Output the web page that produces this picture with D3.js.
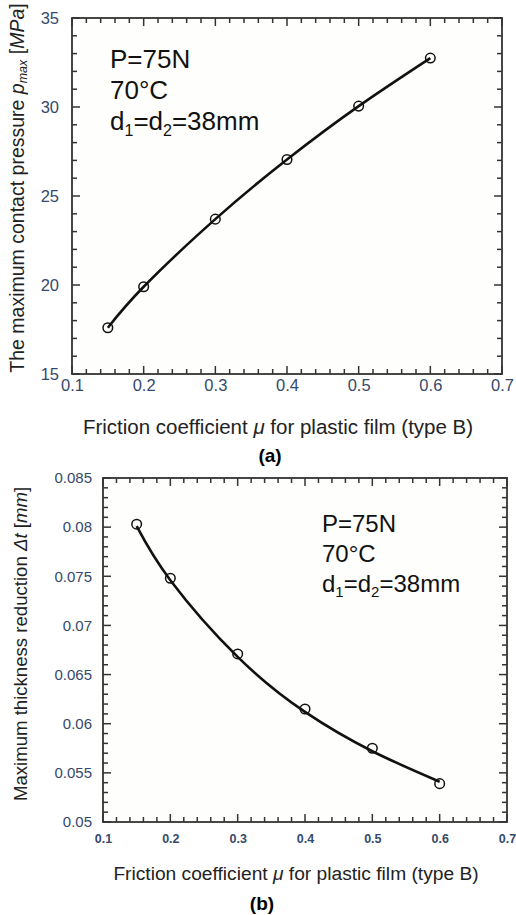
<!DOCTYPE html>
<html><head><meta charset="utf-8">
<script src="https://cdn.jsdelivr.net/npm/d3@7"></script>
<style>body{margin:0;background:#fff}svg{display:block}text{font-family:"Liberation Sans",Arial,sans-serif}</style>
</head><body><svg id="c" width="516" height="915"></svg>
<script>
// ---- data ----
const mu = [0.15, 0.2, 0.3, 0.4, 0.5, 0.6];
const pmax = [17.6, 19.9, 23.7, 27.05, 30.05, 32.75];
const dt = [0.0803, 0.0748, 0.0671, 0.0615, 0.0575, 0.0539];
const dtFit = [0.0801, 0.0746, 0.0668, 0.0612, 0.0572, 0.0541];
const xTicks = [0.1, 0.2, 0.3, 0.4, 0.5, 0.6, 0.7];
const yTicksA = [15, 20, 25, 30, 35];
const yTicksB = [0.05, 0.055, 0.06, 0.065, 0.07, 0.075, 0.08, 0.085];

const svg = d3.select("#c");
const tickCol = "#35496b";

function panel(cfg){
  const g = svg.append("g");
  const x = d3.scaleLinear().domain([0.1,0.7]).range([cfg.l, cfg.r]);
  const y = d3.scaleLinear().domain(cfg.yd).range([cfg.b, cfg.t]);
  g.append("rect").attr("x",cfg.l).attr("y",cfg.t).attr("width",cfg.r-cfg.l).attr("height",cfg.b-cfg.t)
    .attr("fill","#fefefc");
  const xMinor = d3.range(0, 31).map(i => 0.1 + i*0.02);
  const nY = Math.round((cfg.yd[1]-cfg.yd[0])/cfg.ym);
  const yMinor = d3.range(0, nY+1).map(i => cfg.yd[0] + i*cfg.ym);
  const isMajX = v => Math.abs(v*10 - Math.round(v*10)) < 1e-6;
  const isMajY = v => cfg.yt.some(t => Math.abs(t - v) < cfg.ym/10);
  const segs = [];
  xMinor.forEach(v => {
    const L = isMajX(v) ? 8 : 5;
    segs.push([x(v), cfg.b, x(v), cfg.b-L]);
    segs.push([x(v), cfg.t, x(v), cfg.t+L]);
  });
  yMinor.forEach(v => {
    const L = isMajY(v) ? 8 : 5;
    segs.push([cfg.l, y(v), cfg.l+L, y(v)]);
    segs.push([cfg.r, y(v), cfg.r-L, y(v)]);
  });
  g.selectAll("line.tk").data(segs).join("line").attr("class","tk")
    .attr("x1",s=>s[0]).attr("y1",s=>s[1]).attr("x2",s=>s[2]).attr("y2",s=>s[3])
    .attr("stroke","#333").attr("stroke-width",1.5);
  // labels via axes
  const xa = g.append("g").attr("transform",`translate(0,${cfg.b})`)
    .call(d3.axisBottom(x).tickValues(xTicks).tickSize(0).tickPadding(cfg.xpad).tickFormat(d => String(+d.toFixed(3))));
  xa.select(".domain").remove();
  xa.selectAll("text").attr("font-size",cfg.xfs).attr("fill",tickCol).attr("font-weight",cfg.xfw)
    .attr("font-family","'Liberation Sans',Arial,sans-serif");
  const ya = g.append("g").attr("transform",`translate(${cfg.l},0)`)
    .call(d3.axisLeft(y).tickValues(cfg.yt).tickSize(0).tickPadding(cfg.ypad).tickFormat(d => String(+d.toFixed(3))));
  ya.select(".domain").remove();
  ya.selectAll("text").attr("font-size",cfg.yfs).attr("fill",tickCol)
    .attr("font-family","'Liberation Sans',Arial,sans-serif");
  g.append("rect").attr("x",cfg.l).attr("y",cfg.t).attr("width",cfg.r-cfg.l).attr("height",cfg.b-cfg.t)
    .attr("fill","none").attr("stroke","#333").attr("stroke-width",1.8);
  // curve
  const line = d3.line().x((d,i)=>x(mu[i])).y(d=>y(d)).curve(d3.curveNatural);
  g.append("path").attr("d", line(cfg.fit)).attr("fill","none").attr("stroke","#111").attr("stroke-width",2.6);
  g.selectAll("circle.p").data(cfg.vals).join("circle").attr("class","p").attr("cx",(d,i)=>x(mu[i])).attr("cy",d=>y(d))
    .attr("r",4.8).attr("fill","none").attr("stroke","#111").attr("stroke-width",1.5);
  // annotation
  const fs = cfg.afs, sub = Math.round(fs*0.62), sh = Math.round(fs*0.22);
  const ann = g.append("text").attr("font-size",fs).attr("fill","#111");
  ann.append("tspan").attr("x",cfg.ax).attr("y",cfg.ay).text("P=75N");
  ann.append("tspan").attr("x",cfg.ax).attr("y",cfg.ay+cfg.als).text("70°C");
  ann.append("tspan").attr("x",cfg.ax).attr("y",cfg.ay+2*cfg.als).text("d");
  ann.append("tspan").attr("font-size",sub).attr("dy",sh).text("1");
  ann.append("tspan").attr("dy",-sh).text("=d");
  ann.append("tspan").attr("font-size",sub).attr("dy",sh).text("2");
  ann.append("tspan").attr("dy",-sh).text("=38mm");
  return {x,y,g};
}

panel({l:72,r:502,t:18,b:374,yd:[15,35],ym:1,yt:yTicksA,vals:pmax,fit:pmax,
  xfs:16.5,xfw:"normal",xpad:5,yfs:16.5,ypad:13,ax:110,ay:68,afs:26,als:31});
panel({l:103,r:507,t:478,b:822,yd:[0.05,0.085],ym:0.001,yt:yTicksB,vals:dt,fit:dtFit,
  xfs:12.5,xfw:"bold",xpad:12,yfs:15,ypad:11,ax:322,ay:532,afs:24,als:30});

// axis titles
function xTitle(cx, cy, fs){
  const t = svg.append("text").attr("x",cx).attr("y",cy).attr("text-anchor","middle").attr("font-size",fs).attr("fill","#222");
  t.append("tspan").text("Friction coefficient ");
  t.append("tspan").attr("font-style","italic").text("μ");
  t.append("tspan").text(" for plastic film  (type B)");
}
xTitle(278, 434, 20.5);
xTitle(296, 880, 19.2);

const ya = svg.append("text").attr("transform","translate(24,188) rotate(-90)").attr("text-anchor","middle").attr("font-size",19.5).attr("fill","#222");
ya.append("tspan").text("The maximum  contact pressure ");
ya.append("tspan").attr("font-style","italic").text("p");
ya.append("tspan").attr("font-style","italic").attr("font-size",12.5).attr("dy",3).text("max");
ya.append("tspan").attr("dy",-3).text(" [");
ya.append("tspan").attr("font-style","italic").text("MPa");
ya.append("tspan").text("]");

const yb = svg.append("text").attr("transform","translate(27,644) rotate(-90)").attr("text-anchor","middle").attr("font-size",18.6).attr("fill","#222");
yb.append("tspan").text("Maximum  thickness  reduction  ");
yb.append("tspan").attr("font-style","italic").text("Δt");
yb.append("tspan").text(" [");
yb.append("tspan").attr("font-style","italic").text("mm");
yb.append("tspan").text("]");

svg.append("text").attr("x",270).attr("y",462).attr("text-anchor","middle").attr("font-family","'Liberation Serif','Times New Roman',serif").attr("font-weight","bold").attr("font-size",19).text("(a)");
svg.append("text").attr("x",262).attr("y",910).attr("text-anchor","middle").attr("font-family","'Liberation Serif','Times New Roman',serif").attr("font-weight","bold").attr("font-size",19).text("(b)");
</script></body></html>
